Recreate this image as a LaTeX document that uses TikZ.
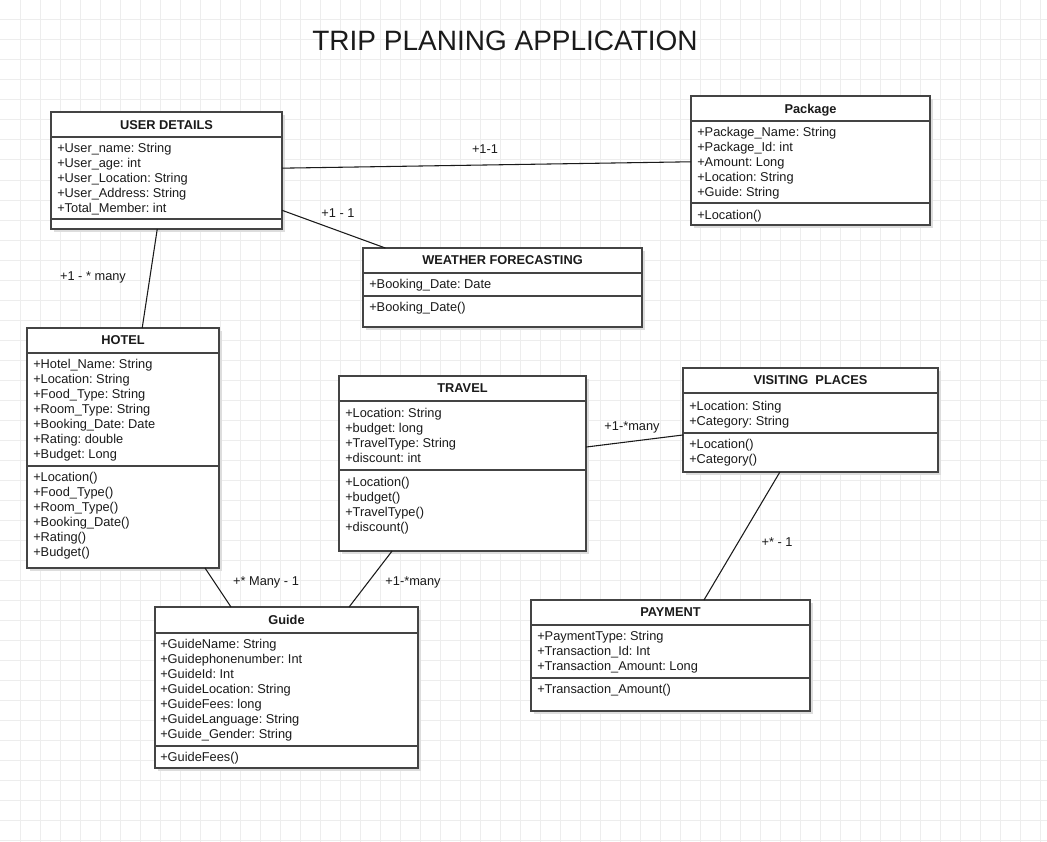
\documentclass[tikz,border=0pt]{standalone}
\usepackage{fontspec}
\setmainfont{Liberation Sans}
\frenchspacing
\usetikzlibrary{calc,fit,shadows}
\definecolor{ink}{HTML}{1A1A1A}
\definecolor{edge}{HTML}{444444}
\definecolor{gridc}{HTML}{EDEDED}
\definecolor{shade}{HTML}{DDDDDD}

\begin{document}
\begin{tikzpicture}[x=.75pt,y=-.75pt,every node/.style={font=\fontsize{9.6}{11.25}\selectfont,text=ink,inner sep=0pt},cls/.style={draw=edge,line width=1.1pt,fill=white,inner sep=0pt,outer sep=0pt,general shadow={fill=shade,shadow xshift=2.5pt,shadow yshift=-2.5pt}},sep/.style={draw=edge,line width=1.1pt},head/.style={anchor=base,font=\bfseries\fontsize{9.6}{11.25}\selectfont},attr/.style={align=left,anchor=north west},rel/.style={draw=ink,line width=.8pt},lbl/.style={anchor=base}]
\useasboundingbox (0,0) rectangle (1047,842);
\fill[white] (0,0) rectangle (1047,842);

% grid
\foreach \gx in {20,40,...,1040} \draw[gridc,line width=.75pt] (\gx,0) -- (\gx,842);
\foreach \gy in {20,40,...,840} \draw[gridc,line width=.75pt] (0,\gy) -- (1047,\gy);

\node[font=\fontsize{21}{24}\selectfont] (title) at (505,41) {TRIP PLANING APPLICATION};

% USER DETAILS
\node[cls,fit={(51,112) (282,229)}] (user) {};
\draw[sep] (51,137) -- (282,137) (51,219) -- (282,219);
\node[head] (userh) at (166.5,129.2) {USER DETAILS};
\node[attr] (usera) at (57,143.2) {+User\_name: String\\+User\_age: int\\+User\_Location: String\\+User\_Address: String\\+Total\_Member: int};

% Package
\node[cls,fit={(691,96) (930,225)}] (pkg) {};
\draw[sep] (691,121) -- (930,121) (691,203) -- (930,203);
\node[head] (pkgh) at (810.5,113.2) {Package};
\node[attr] (pkga) at (697,127.2) {+Package\_Name: String\\+Package\_Id: int\\+Amount: Long\\+Location: String\\+Guide: String};
\node[attr] (pkgm) at (697,210.2) {+Location()};

% WEATHER FORECASTING
\node[cls,fit={(363,248) (642,327)}] (weather) {};
\draw[sep] (363,273) -- (642,273) (363,296) -- (642,296);
\node[head] (weatherh) at (502.5,264.7) {WEATHER FORECASTING};
\node[attr] (weathera) at (369,279.2) {+Booking\_Date: Date};
\node[attr] (weatherm) at (369,302.2) {+Booking\_Date()};

% HOTEL
\node[cls,fit={(27,328) (219,568)}] (hotel) {};
\draw[sep] (27,353) -- (219,353) (27,466) -- (219,466);
\node[head] (hotelh) at (123,344.7) {HOTEL};
\node[attr] (hotela) at (33,359.2) {+Hotel\_Name: String\\+Location: String\\+Food\_Type: String\\+Room\_Type: String\\+Booking\_Date: Date\\+Rating: double\\+Budget: Long};
\node[attr] (hotelm) at (33,472.2) {+Location()\\+Food\_Type()\\+Room\_Type()\\+Booking\_Date()\\+Rating()\\+Budget()};

% TRAVEL
\node[cls,fit={(339,376) (586,551)}] (travel) {};
\draw[sep] (339,401) -- (586,401) (339,470) -- (586,470);
\node[head] (travelh) at (462.5,392.7) {TRAVEL};
\node[attr] (travela) at (345,408.2) {+Location: String\\+budget: long\\+TravelType: String\\+discount: int};
\node[attr] (travelm) at (345,477.2) {+Location()\\+budget()\\+TravelType()\\+discount()};

% VISITING PLACES
\node[cls,fit={(683,368) (938,472)}] (visit) {};
\draw[sep] (683,393) -- (938,393) (683,433) -- (938,433);
\node[head] (visith) at (810.5,384.7) {VISITING\ \ PLACES};
\node[attr] (visita) at (689,401.2) {+Location: Sting\\+Category: String};
\node[attr] (visitm) at (689,439.2) {+Location()\\+Category()};

% Guide
\node[cls,fit={(155,607) (418,768)}] (guide) {};
\draw[sep] (155,633) -- (418,633) (155,746) -- (418,746);
\node[head] (guideh) at (286.5,624.7) {Guide};
\node[attr] (guidea) at (160,639.2) {+GuideName: String\\+Guidephonenumber: Int\\+GuideId: Int\\+GuideLocation: String\\+GuideFees: long\\+GuideLanguage: String\\+Guide\_Gender: String};
\node[attr] (guidem) at (160,752.2) {+GuideFees()};

% PAYMENT
\node[cls,fit={(531,600) (810,711)}] (pay) {};
\draw[sep] (531,625) -- (810,625) (531,678) -- (810,678);
\node[head] (payh) at (670.5,616.7) {PAYMENT};
\node[attr] (paya) at (537,631.2) {+PaymentType: String\\+Transaction\_Id: Int\\+Transaction\_Amount: Long};
\node[attr] (paym) at (537,684.2) {+Transaction\_Amount()};

% associations
\draw[rel] ($(user.north east)!.48!(user.south east)$) -- ($(pkg.north west)!.51!(pkg.south west)$);
\draw[rel] ($(user.north east)!.84!(user.south east)$) -- ($(weather.north west)!.08!(weather.north east)$);
\draw[rel] ($(user.south west)!.46!(user.south east)$) -- ($(hotel.north west)!.6!(hotel.north east)$);
\draw[rel] ($(hotel.south west)!.927!(hotel.south east)$) -- ($(guide.north west)!.289!(guide.north east)$);
\draw[rel] ($(travel.south west)!.215!(travel.south east)$) -- ($(guide.north west)!.738!(guide.north east)$);
\draw[rel] ($(travel.north east)!.406!(travel.south east)$) -- ($(visit.north west)!.644!(visit.south west)$);
\draw[rel] ($(visit.south west)!.38!(visit.south east)$) -- ($(pay.north west)!.62!(pay.north east)$);

\node[lbl] (l1) at (485,153.7) {+1-1};
\node[lbl] (l2) at (338,217.7) {+1 - 1};
\node[lbl] (l3) at (93,280.7) {+1 - * many};
\node[lbl] (l4) at (266,585.7) {+* Many - 1};
\node[lbl] (l5) at (413,585.7) {+1-*many};
\node[lbl] (l6) at (632,430.7) {+1-*many};
\node[lbl] (l7) at (777,546.7) {+* - 1};

\end{tikzpicture}
\end{document}
